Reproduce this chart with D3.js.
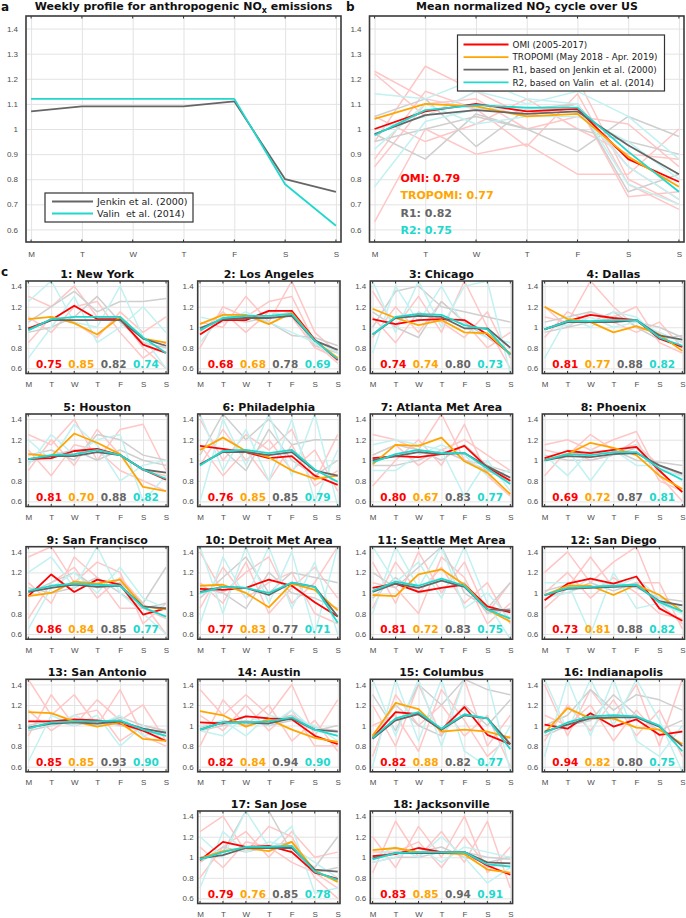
<!DOCTYPE html>
<html lang="en">
<head>
<meta charset="UTF-8">
<title>Weekly NO2 cycles</title>
<script src="https://d3js.org/d3.v7.min.js"></script>
<style>
  body { margin: 0; background: white; }
  svg { display: block; font-family: "DejaVu Sans", sans-serif; }
  .tick text { font-size: 8px; fill: #4d4d4d; }
  .grid line { stroke: #e3e3e3; stroke-width: 1; }
  .title { font-size: 11px; font-weight: bold; fill: #111; text-anchor: middle; }
  .letter { font-size: 12px; font-weight: bold; fill: #111; }
</style>
</head>
<body>
<svg id="chart" width="686" height="918"></svg>
<script>
// ---- data ----
const days = ["M", "T", "W", "T", "F", "S", "S"];

// panel a: emission weekly profiles
const jenkin = [1.07, 1.09, 1.09, 1.09, 1.11, 0.80, 0.75];
const valin  = [1.12, 1.12, 1.12, 1.12, 1.12, 0.78, 0.615];

// panel b: US mean
const usOmi     = [1.00, 1.07, 1.10, 1.07, 1.08, 0.88, 0.79];
const usTropomi = [1.04, 1.10, 1.09, 1.05, 1.06, 0.89, 0.77];
const usR1      = [0.98, 1.055, 1.075, 1.06, 1.07, 0.935, 0.82];
const usR2      = [0.975, 1.075, 1.095, 1.085, 1.085, 0.91, 0.75];
const usCorr    = [["OMI: 0.79", "#ff0000"], ["TROPOMI: 0.77", "#ffa500"], ["R1: 0.82", "#666666"], ["R2: 0.75", "#22d8cc"]];
const usBgPink = [
  [1.23,1.12,1.08,1.06,1.10,0.85,0.72], [0.63,1.00,0.90,0.94,0.82,0.82,1.00],
  [0.95,1.25,1.15,1.05,1.10,0.73,0.75], [1.22,1.05,1.15,1.15,1.20,0.80,0.70],
  [0.85,1.10,1.12,1.00,1.05,1.02,0.85], [1.05,0.95,1.02,1.12,1.00,0.90,0.88],
  [0.88,1.15,1.08,0.93,1.14,0.78,0.68]];
const usBgCyan = [
  [1.14,1.12,1.20,1.12,1.10,0.78,0.70], [0.77,1.03,1.08,1.08,1.08,0.85,0.72],
  [1.00,1.05,1.15,1.10,1.15,1.05,0.88], [0.92,1.10,1.02,1.05,1.05,0.95,0.80]];
const usBgGray = [
  [0.98,0.88,1.06,1.00,0.91,1.05,0.97], [1.05,1.12,0.93,1.08,1.10,0.75,0.82],
  [0.95,1.00,1.05,1.00,1.00,0.95,0.90]];

// panel c: cities
const cities = ["1: New York", "2: Los Angeles", "3: Chicago", "4: Dallas", "5: Houston",
  "6: Philadelphia", "7: Atlanta Met Area", "8: Phoenix", "9: San Francisco",
  "10: Detroit Met Area", "11: Seattle Met Area", "12: San Diego", "13: San Antonio",
  "14: Austin", "15: Columbus", "16: Indianapolis", "17: San Jose", "18: Jacksonville"];

const omi = [
  [0.99,1.07,1.21,1.08,1.08,0.83,0.75], [0.93,1.07,1.07,1.16,1.16,0.88,0.68],
  [1.08,1.03,1.07,1.08,1.07,0.93,0.74], [0.98,1.06,1.12,1.09,1.07,0.89,0.81],
  [1.01,1.02,1.09,1.11,1.05,0.91,0.81], [1.14,1.11,1.08,1.02,1.04,0.85,0.76],
  [1.02,1.04,1.03,1.06,1.14,0.93,0.80], [1.02,1.09,1.07,1.10,1.13,0.90,0.69],
  [0.97,1.18,1.01,1.13,1.08,0.79,0.85], [1.04,1.03,1.05,1.13,1.07,0.91,0.77],
  [1.05,1.09,1.01,1.05,1.08,0.87,0.81], [0.93,1.09,1.14,1.09,1.16,0.85,0.73],
  [1.04,1.04,1.06,1.05,1.02,0.95,0.85], [1.03,1.02,1.09,1.07,1.06,0.90,0.82],
  [0.88,1.13,1.11,0.96,1.18,0.91,0.82], [1.01,0.97,1.12,0.99,1.06,0.91,0.94],
  [0.97,1.15,1.10,1.11,1.05,0.85,0.79], [1.01,1.03,1.09,1.05,1.05,0.92,0.83]];
const tropomi = [
  [1.08,1.10,1.04,0.93,1.10,0.89,0.85], [1.03,1.12,1.12,1.03,1.14,0.87,0.70],
  [1.18,1.09,1.02,1.07,0.95,0.94,0.74], [1.20,1.08,1.05,0.95,1.01,0.93,0.77],
  [1.06,1.04,1.26,1.17,1.06,0.74,0.70], [1.10,1.22,1.09,1.03,0.90,0.82,0.85],
  [0.96,1.15,1.14,1.22,0.99,0.88,0.67], [1.00,1.06,1.17,1.12,1.05,0.85,0.72],
  [0.97,1.00,1.11,1.09,1.13,0.87,0.84], [1.07,1.08,1.00,0.86,1.09,1.03,0.83],
  [0.98,0.97,1.18,1.23,1.08,0.84,0.72], [0.98,1.07,1.07,0.98,1.08,0.98,0.82],
  [1.13,1.12,1.04,0.99,1.03,0.87,0.85], [1.14,1.10,0.99,1.06,0.96,0.88,0.84],
  [0.90,1.22,1.16,0.94,0.96,0.94,0.88], [0.93,1.17,1.07,1.07,0.98,0.96,0.82],
  [0.99,1.06,1.09,1.06,1.15,0.87,0.76], [1.07,1.09,1.05,1.04,1.03,0.88,0.85]];
const r1 = [
  [0.98,1.07,1.07,1.07,1.07,0.89,0.82], [0.99,1.08,1.09,1.09,1.11,0.87,0.78],
  [0.93,1.09,1.11,1.10,0.99,0.99,0.80], [0.98,1.05,1.05,1.05,1.07,0.92,0.88],
  [1.01,1.04,1.04,1.08,1.05,0.91,0.88], [0.96,1.08,1.08,1.05,1.08,0.90,0.85],
  [1.00,1.04,1.08,1.06,1.07,0.94,0.83], [1.00,1.04,1.03,1.06,1.07,0.95,0.87],
  [1.01,1.05,1.08,1.06,1.07,0.87,0.85], [1.01,1.06,1.05,0.98,1.10,1.06,0.77],
  [1.01,1.09,1.05,1.12,1.06,0.84,0.83], [0.98,1.04,1.05,1.06,1.07,0.92,0.88],
  [0.98,1.02,1.03,1.02,1.04,0.97,0.93], [0.96,1.03,1.03,1.02,1.07,0.96,0.94],
  [0.87,1.05,1.11,0.96,1.10,1.07,0.82], [0.94,1.01,1.07,1.08,1.08,0.99,0.80],
  [0.99,1.02,1.09,1.09,1.09,0.88,0.86], [0.99,1.04,1.04,1.04,1.05,0.95,0.94]];
const r2 = [
  [0.97,1.08,1.10,1.10,1.10,0.90,0.75], [0.97,1.09,1.11,1.11,1.13,0.87,0.69],
  [0.93,1.10,1.13,1.12,1.02,0.98,0.73], [0.98,1.06,1.06,1.07,1.07,0.90,0.82],
  [1.01,1.05,1.06,1.10,1.05,0.91,0.82], [0.95,1.09,1.10,1.07,1.10,0.91,0.79],
  [0.98,1.06,1.10,1.07,1.07,0.92,0.77], [1.00,1.06,1.05,1.08,1.08,0.92,0.81],
  [1.02,1.07,1.09,1.08,1.07,0.86,0.77], [1.00,1.06,1.05,1.00,1.10,1.06,0.71],
  [1.02,1.11,1.07,1.14,1.07,0.84,0.75], [0.98,1.05,1.06,1.07,1.08,0.91,0.82],
  [0.97,1.03,1.04,1.04,1.05,0.96,0.90], [0.96,1.03,1.03,1.04,1.08,0.96,0.90],
  [0.88,1.07,1.13,0.97,1.11,1.07,0.77], [0.93,1.03,1.09,1.10,1.09,1.00,0.75],
  [0.98,1.05,1.10,1.10,1.11,0.86,0.78], [0.98,1.04,1.05,1.05,1.05,0.93,0.91]];

// correlations: OMI, TROPOMI, R1, R2
const corrOmi     = ["0.75","0.68","0.74","0.81","0.81","0.76","0.80","0.69","0.86","0.77","0.81","0.73","0.85","0.82","0.82","0.94","0.79","0.83"];
const corrTropomi = ["0.85","0.68","0.74","0.77","0.70","0.85","0.67","0.72","0.84","0.83","0.72","0.81","0.85","0.84","0.88","0.82","0.76","0.85"];
const corrR1      = ["0.82","0.78","0.80","0.88","0.88","0.85","0.83","0.87","0.85","0.77","0.83","0.88","0.93","0.94","0.82","0.80","0.85","0.94"];
const corrR2      = ["0.74","0.69","0.73","0.82","0.82","0.79","0.77","0.81","0.77","0.71","0.75","0.82","0.90","0.90","0.77","0.75","0.78","0.91"];

// faint per-year lines in each city (pink = OMI years, cyan = R2 years, gray = R1 years)
const bgPink = [
  [[1.30,1.20,1.40,1.10,1.10,0.80,0.60],[0.85,1.10,1.05,0.90,1.15,0.95,1.10],[1.10,0.95,1.20,1.25,0.95,0.70,0.85]],
  [[0.80,1.20,1.10,1.25,1.30,0.85,0.65],[1.05,1.00,1.30,1.05,1.45,0.95,0.75],[0.95,1.15,0.95,1.15,1.10,0.80,0.70]],
  [[1.35,1.00,1.30,0.95,1.45,1.00,0.60],[0.90,1.20,0.95,1.25,1.05,0.80,0.95],[1.10,0.85,1.15,1.05,0.90,1.15,0.70]],
  [[1.10,1.05,1.45,1.20,1.00,0.95,0.85],[0.90,1.15,1.05,1.10,1.20,0.85,0.75],[1.20,1.00,1.15,1.05,0.95,1.05,0.80]],
  [[1.25,1.15,1.40,1.00,1.30,1.35,0.90],[0.90,1.20,0.95,1.30,1.05,0.90,0.85],[1.10,0.85,1.15,1.10,0.90,0.80,0.70]],
  [[1.40,1.00,1.25,1.10,1.30,0.80,1.25],[0.95,1.30,1.00,1.20,0.90,1.10,0.70],[1.15,0.85,1.10,0.80,1.15,0.75,0.90]],
  [[1.25,1.20,1.10,1.45,1.00,0.95,0.80],[0.75,1.00,1.20,0.95,1.35,0.85,0.65],[1.05,1.15,0.95,1.10,1.20,1.05,0.90]],
  [[1.15,1.20,1.10,1.20,1.28,0.85,0.60],[1.10,1.05,1.25,1.10,1.15,0.95,0.85],[0.85,1.10,1.00,1.05,1.20,0.80,0.70]],
  [[1.35,1.45,1.10,1.30,1.20,0.70,0.90],[0.75,1.10,1.25,0.95,1.15,0.90,0.60],[1.10,0.90,1.35,1.15,0.85,0.85,0.75]],
  [[1.40,1.00,1.20,1.35,0.90,1.10,1.45],[0.85,1.25,0.95,1.10,1.20,0.80,0.70],[1.10,0.90,1.30,0.80,1.05,1.25,0.95]],
  [[1.30,0.90,1.40,1.00,1.30,0.80,1.10],[0.85,1.30,1.00,1.25,0.90,1.10,0.70],[1.10,1.05,0.80,1.35,1.15,0.70,0.90]],
  [[1.20,1.40,1.10,1.30,1.45,0.90,0.70],[0.85,1.05,1.35,1.05,1.10,1.10,0.65],[1.00,1.20,0.95,1.15,1.00,0.80,0.75]],
  [[1.45,1.10,1.30,1.00,1.35,0.90,0.80],[0.90,1.30,1.00,1.25,1.05,1.20,0.85],[1.15,0.95,1.10,1.15,0.85,1.00,0.95]],
  [[1.35,1.10,1.30,1.10,1.40,0.90,1.25],[0.80,1.25,1.00,1.20,0.85,1.05,0.75],[1.10,0.95,1.20,0.95,1.15,0.80,0.80]],
  [[1.20,0.80,1.40,0.90,1.45,0.80,1.10],[0.70,1.30,1.00,1.20,0.90,1.10,0.60],[1.00,1.10,0.75,1.35,1.05,0.70,0.90]],
  [[1.40,0.90,1.35,1.05,1.40,0.80,1.45],[0.85,1.20,0.95,1.25,0.90,1.15,0.70],[1.10,1.00,1.20,0.85,1.15,0.90,0.95]],
  [[1.25,1.40,1.05,1.30,1.20,0.80,0.60],[0.80,1.10,1.25,1.00,1.25,1.00,1.05],[1.10,0.90,1.15,1.10,0.95,0.85,0.70]],
  [[1.20,0.90,1.30,1.00,1.40,0.85,1.10],[0.85,1.35,1.00,1.25,0.95,1.35,0.70],[1.05,1.05,1.15,0.90,1.20,0.90,0.95]]];
const bgCyan = [
  [[1.25,1.45,1.05,1.00,1.40,0.90,0.60],[0.70,1.00,1.30,0.85,1.00,1.20,0.95]],
  [[1.10,1.05,1.15,1.05,0.95,0.85,0.68],[0.85,1.12,1.08,1.15,1.12,0.88,0.75]],
  [[1.45,0.95,1.45,1.00,1.40,1.45,0.55],[0.75,1.40,1.05,1.40,1.00,0.90,0.85]],
  [[0.70,1.10,1.00,1.15,1.10,0.90,0.80],[1.00,1.02,1.10,1.00,1.05,0.95,0.85]],
  [[1.20,1.00,1.35,1.15,0.80,0.95,1.00],[0.95,1.25,1.05,1.20,1.25,0.60,0.85]],
  [[0.60,1.40,0.95,1.45,0.85,1.45,0.55],[1.45,0.90,1.30,0.80,1.40,0.60,1.10]],
  [[1.15,1.20,1.15,1.10,0.65,1.00,0.70],[0.90,0.90,1.05,1.15,1.05,0.85,0.90]],
  [[1.05,0.85,1.10,1.05,1.15,0.90,0.85],[0.98,1.10,0.80,1.10,0.95,0.95,0.80]],
  [[1.20,1.35,1.05,1.45,1.00,0.80,0.60],[0.65,1.05,1.20,1.00,1.25,0.95,0.85]],
  [[1.45,0.80,1.45,0.90,1.40,0.60,1.45],[0.70,1.35,0.95,1.45,0.85,1.30,0.60]],
  [[1.45,1.10,1.30,0.95,1.45,0.90,0.55],[0.80,1.45,1.05,1.45,0.85,1.00,0.75]],
  [[1.10,1.10,0.60,1.20,0.85,0.90,0.80],[0.95,1.00,1.15,1.05,1.15,0.95,0.85]],
  [[0.65,1.10,1.00,1.10,0.80,1.00,0.85],[1.05,1.00,1.10,1.00,1.10,0.90,0.95]],
  [[0.95,0.90,1.10,1.00,1.15,0.95,0.90],[1.00,1.05,0.90,1.10,1.05,1.00,0.85]],
  [[1.45,0.90,1.45,0.80,1.45,1.45,0.55],[0.60,1.45,0.85,1.45,0.75,0.60,1.00]],
  [[1.45,0.95,1.45,1.00,1.45,1.05,0.55],[0.70,1.45,0.90,1.45,0.85,0.70,1.00]],
  [[1.20,1.00,1.45,1.10,1.30,0.65,0.70],[0.70,1.25,1.05,1.15,1.10,0.95,0.80]],
  [[1.00,1.10,1.00,1.20,1.00,0.75,0.90],[0.95,1.00,1.10,0.95,1.10,1.05,1.00]]];
const bgGray = [
  [[1.05,1.20,1.35,1.15,1.25,1.25,1.28],[0.95,1.00,1.10,1.30,1.05,0.85,0.80]],
  [[1.00,1.05,1.12,1.05,0.92,0.90,0.82],[0.98,1.10,1.05,1.10,1.15,0.82,0.75]],
  [[1.00,1.35,1.40,1.20,1.15,1.10,1.05],[1.15,1.00,0.90,1.25,1.05,0.90,0.75]],
  [[1.05,1.10,1.15,1.08,1.05,1.00,0.90],[0.95,1.00,1.05,1.15,1.00,0.88,0.92]],
  [[1.05,1.10,1.00,1.25,1.20,1.05,1.00],[0.98,1.05,1.10,1.00,1.10,1.00,0.95]],
  [[1.05,1.45,1.20,1.40,1.15,1.20,1.20],[0.95,1.10,0.90,1.30,1.00,0.85,1.00]],
  [[1.05,1.15,1.10,1.00,1.15,0.95,0.88],[0.95,0.95,1.00,1.10,1.00,0.90,0.80]],
  [[1.02,1.05,1.08,1.10,1.00,0.98,0.95],[1.05,1.00,1.00,1.05,1.12,0.90,0.85]],
  [[1.00,1.10,1.20,1.05,1.10,0.90,1.25],[1.05,1.00,1.05,1.15,1.00,0.85,0.90]],
  [[0.95,1.15,1.35,1.00,1.20,1.15,1.10],[1.05,1.00,0.85,1.20,1.00,0.95,0.85]],
  [[1.20,1.05,1.25,1.45,1.00,0.85,1.10],[0.95,1.15,1.00,1.05,1.10,0.80,0.85]],
  [[1.02,1.08,1.05,1.10,1.05,0.95,0.92],[0.98,1.00,1.10,1.02,1.10,0.90,0.88]],
  [[1.00,1.05,1.00,1.05,1.00,0.95,0.90],[0.95,1.00,1.05,1.00,1.08,1.00,0.95]],
  [[0.98,1.05,1.00,1.05,1.10,0.98,0.95],[0.95,1.00,1.05,1.00,1.05,0.95,1.00]],
  [[1.30,0.95,1.40,1.20,1.45,1.35,1.30],[0.90,1.20,1.00,0.90,1.20,1.00,1.25]],
  [[1.00,1.10,1.35,1.15,1.30,1.25,1.15],[0.90,1.00,1.05,1.30,1.10,0.95,1.05]],
  [[1.00,1.05,1.45,1.45,1.05,0.90,1.20],[0.95,1.10,1.05,1.10,1.15,0.85,0.90]],
  [[1.00,1.05,1.05,1.10,1.00,0.95,1.00],[0.95,1.00,1.00,1.05,1.05,1.00,0.98]]];

// ---- styles ----
const cRed = "#ff0000", cOrange = "#ffa500", cGray = "#666666", cCyan = "#22d8cc";
const cPink = "#ffc6c6", cLCyan = "#c2f1f1", cLGray = "#cfcfcf";

const svg = d3.select("#chart");
let clipId = 0;

// draws one axes box, returns {g, plot, x, y, w, h}
function makeAxes(left, top, w, h, yTicks, big) {
  const g = svg.append("g").attr("transform", `translate(${left},${top})`);
  const x = d3.scaleLinear().domain([0.9, 7.1]).range([0, w]);
  const y = d3.scaleLinear().domain([0.55, 1.45]).range([h, 0]);
  const fmt = d => Math.abs(d - 1) < 1e-9 ? "1" : d3.format(".1f")(d);

  g.append("rect").attr("width", w).attr("height", h).attr("fill", "white");

  const gx = g.append("g").attr("class", "grid").attr("transform", `translate(0,${h})`)
    .call(d3.axisBottom(x).tickValues([1, 2, 3, 4, 5, 6, 7]).tickSize(-h)
      .tickPadding(big ? 9 : 8).tickFormat(i => days[i - 1]));
  gx.select(".domain").remove();
  const gy = g.append("g").attr("class", "grid")
    .call(d3.axisLeft(y).tickValues(yTicks).tickSize(-w).tickPadding(big ? 8 : 4).tickFormat(fmt));
  gy.select(".domain").remove();

  const id = "clip" + (clipId++);
  g.append("clipPath").attr("id", id).append("rect").attr("width", w).attr("height", h);
  const plot = g.append("g").attr("clip-path", `url(#${id})`);
  return { g, plot, x, y, w, h };
}

function finishAxes(ax) {
  const { g, x, y, w, h } = ax;
  // small inward ticks on top and bottom
  [1, 2, 3, 4, 5, 6, 7].forEach(d => {
    g.append("line").attr("x1", x(d)).attr("x2", x(d)).attr("y1", h).attr("y2", h - 2.5).attr("stroke", "#333");
    g.append("line").attr("x1", x(d)).attr("x2", x(d)).attr("y1", 0).attr("y2", 2.5).attr("stroke", "#333");
  });
  g.append("rect").attr("width", w).attr("height", h)
    .attr("fill", "none").attr("stroke", "#3a3a3a").attr("stroke-width", 1.6);
}

function drawLines(ax, list, color, width) {
  const line = d3.line().x((d, i) => ax.x(i + 1)).y(d => ax.y(d));
  ax.plot.selectAll(null).data(list).enter().append("path")
    .attr("d", line).attr("fill", "none").attr("stroke", color)
    .attr("stroke-width", width).attr("stroke-linejoin", "round");
}

const bigTicks = d3.range(6, 15).map(d => d / 10);
const smallTicks = [0.6, 0.8, 1.0, 1.2, 1.4];

// ---- panel a ----
const axA = makeAxes(26, 16, 315, 226, bigTicks, true);
drawLines(axA, [jenkin], cGray, 1.8);
drawLines(axA, [valin], cCyan, 1.8);
finishAxes(axA);
const titleA = svg.append("text").attr("class", "title").attr("x", 183.5).attr("y", 10);
titleA.append("tspan").text("Weekly profile for anthropogenic NO");
titleA.append("tspan").attr("dy", 3).attr("font-size", 8).text("x");
titleA.append("tspan").attr("dy", -3).text(" emissions");
svg.append("text").attr("class", "letter").attr("x", 1).attr("y", 11).text("a");

const legA = axA.g.append("g").attr("transform", "translate(19,177)");
legA.append("rect").attr("width", 148).attr("height", 29).attr("fill", "white")
  .attr("stroke", "#333").attr("stroke-width", 1.2);
[["Jenkin et al. (2000)", cGray], ["Valin  et al. (2014)", cCyan]].forEach((e, i) => {
  const yy = 8.5 + i * 12;
  legA.append("line").attr("x1", 7).attr("x2", 48).attr("y1", yy).attr("y2", yy)
    .attr("stroke", e[1]).attr("stroke-width", 1.8);
  legA.append("text").attr("x", 52).attr("y", yy + 3.5).attr("font-size", 9.5)
    .attr("fill", "#222").style("white-space", "pre").text(e[0]);
});

// ---- panel b ----
const axB = makeAxes(369.5, 16, 314.5, 226, bigTicks, true);
drawLines(axB, usBgPink, cPink, 1.5);
drawLines(axB, usBgGray, cLGray, 1.5);
drawLines(axB, usBgCyan, cLCyan, 1.5);
drawLines(axB, [usOmi], cRed, 1.8);
drawLines(axB, [usTropomi], cOrange, 1.8);
drawLines(axB, [usR1], cGray, 1.8);
drawLines(axB, [usR2], cCyan, 1.8);
finishAxes(axB);
const titleB = svg.append("text").attr("class", "title").attr("x", 527).attr("y", 10);
titleB.append("tspan").text("Mean normalized NO");
titleB.append("tspan").attr("dy", 3).attr("font-size", 8).text("2");
titleB.append("tspan").attr("dy", -3).text(" cycle over US");
svg.append("text").attr("class", "letter").attr("x", 346).attr("y", 11).text("b");

usCorr.forEach((c, i) => {
  axB.g.append("text").attr("x", 31).attr("y", 166 + i * 17.3)
    .attr("font-size", 11).attr("font-weight", "bold").attr("fill", c[1]).text(c[0]);
});

const legB = axB.g.append("g").attr("transform", "translate(88,19)");
legB.append("rect").attr("width", 207).attr("height", 56).attr("fill", "white")
  .attr("stroke", "#333").attr("stroke-width", 1.2);
[["OMI (2005-2017)", cRed], ["TROPOMI (May 2018 - Apr. 2019)", cOrange],
 ["R1, based on Jenkin et al. (2000)", cGray], ["R2, based on Valin  et al. (2014)", cCyan]].forEach((e, i) => {
  const yy = 9.5 + i * 12.6;
  legB.append("line").attr("x1", 6).attr("x2", 51).attr("y1", yy).attr("y2", yy)
    .attr("stroke", e[1]).attr("stroke-width", 1.8);
  legB.append("text").attr("x", 55).attr("y", yy + 3.3).attr("font-size", 8.8)
    .attr("fill", "#222").style("white-space", "pre").text(e[0]);
});

// ---- panel c ----
svg.append("text").attr("class", "letter").attr("x", 1).attr("y", 276).text("c");
const colLeft = [26, 197.7, 370.3, 542.3];
const rowTop = [281, 414, 546.7, 679.3, 811];
const pw = 142.3, ph = 92.5;

cities.forEach((name, k) => {
  let col, row;
  if (k < 16) { row = Math.floor(k / 4); col = k % 4; }
  else { row = 4; col = k - 15; }
  const ax = makeAxes(colLeft[col], rowTop[row], pw, ph, smallTicks, false);
  drawLines(ax, bgPink[k], cPink, 1.5);
  drawLines(ax, bgGray[k], cLGray, 1.5);
  drawLines(ax, bgCyan[k], cLCyan, 1.5);
  drawLines(ax, [omi[k]], cRed, 1.8);
  drawLines(ax, [tropomi[k]], cOrange, 1.8);
  drawLines(ax, [r1[k]], cGray, 1.8);
  drawLines(ax, [r2[k]], cCyan, 1.8);
  finishAxes(ax);
  ax.g.append("text").attr("class", "title").attr("x", pw / 2).attr("y", -3).text(name);
  [[corrOmi, cRed], [corrTropomi, cOrange], [corrR1, cGray], [corrR2, cCyan]].forEach((c, j) => {
    ax.g.append("text").attr("x", 23 + j * 32.3).attr("y", ph - 6)
      .attr("text-anchor", "middle").attr("font-size", 10.5).attr("font-weight", "bold")
      .attr("fill", c[1]).text(c[0][k]);
  });
});
</script>
</body>
</html>
